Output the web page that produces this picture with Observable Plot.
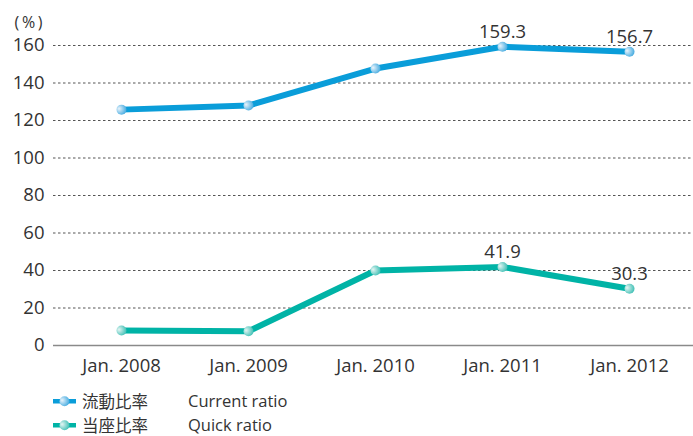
<!DOCTYPE html>
<html><head><meta charset="utf-8">
<script src="https://cdn.jsdelivr.net/npm/d3@7"></script>
<script src="https://cdn.jsdelivr.net/npm/@observablehq/plot@0.6"></script>
<style>
body{margin:0;background:#fff;font-family:"Open Sans","Noto Sans CJK JP",sans-serif;color:#333;}
#wrap{position:relative;width:693px;height:436px;}
#chart svg text{font-size:18.5px;font-family:"Open Sans",sans-serif;}
#chart svg text.unit{font-size:16px;}
#legend{position:absolute;left:53px;top:389px;font-size:16.5px;line-height:1;color:#333;}
.row{display:flex;align-items:center;height:24px;}
.row svg{width:24px;height:12px;margin-right:5px;}
.ja{width:106px;font-family:"Noto Sans CJK JP",sans-serif;line-height:1;}
</style></head><body>
<div id="wrap"><div id="chart"></div><div id="legend"></div></div>
<script>
const years = ["Jan. 2008","Jan. 2009","Jan. 2010","Jan. 2011","Jan. 2012"];
const currentRatio = [125.8, 128.0, 147.7, 159.3, 156.7];
const quickRatio = [8.0, 7.6, 40.0, 41.9, 30.3];
const labeledYears = ["Jan. 2011","Jan. 2012"];
const yTicks = [0, 20, 40, 60, 80, 100, 120, 140, 160];
const seriesJa = ["流動比率", "当座比率"];
const seriesEn = ["Current ratio", "Quick ratio"];
const seriesColors = ["#0a9dd9", "#00b3a6"];
const seriesGrad = ["gBlue", "gTeal"];
const unitLabel = "(\u2009%\u2009)";

const seriesValues = [currentRatio, quickRatio];
const data = [];
seriesValues.forEach((vals, s) => vals.forEach((v, i) => data.push({series: s, year: years[i], value: v})));
const labels = data.filter(d => labeledYears.includes(d.year));

const marks = [
  Plot.ruleY(yTicks.filter(d => d > 0), {stroke: "#555", strokeWidth: 1, strokeDasharray: "2.5,2.5"}),
  Plot.ruleY([0], {stroke: "#8a8a8a", strokeWidth: 1.5}),
  Plot.axisY({ticks: yTicks, tickSize: 0, tickPadding: 9, fontSize: 18, fill: "#333", label: null}),
  Plot.axisX({tickSize: 0, tickPadding: 13, fontSize: 18.5, fill: "#333", label: null})
];
seriesValues.forEach((vals, s) => {
  const sd = data.filter(d => d.series === s);
  marks.push(Plot.line(sd, {x: "year", y: "value", stroke: seriesColors[s], strokeWidth: 6}));
  marks.push(Plot.dot(sd, {x: "year", y: "value", r: 5, fill: `url(#${seriesGrad[s]})`, stroke: "none"}));
});
marks.push(Plot.text(labels, {x: "year", y: "value", text: d => d.value.toFixed(1), dy: -9, lineAnchor: "bottom", fill: "#333", fontSize: 18.5}));
marks.push(Plot.text([unitLabel], {frameAnchor: "top-left", dx: -25, dy: -23, fontSize: 16, fill: "#333", textAnchor: "middle", lineAnchor: "middle"}));

const plot = Plot.plot({
  width: 693, height: 375,
  marginLeft: 53, marginRight: 0, marginTop: 45, marginBottom: 30,
  style: {fontFamily: '"Open Sans","Noto Sans CJK JP",sans-serif', color: "#333", background: "white", overflow: "visible"},
  x: {type: "point", domain: years, padding: 0.5, insetLeft: 4, label: null},
  y: {domain: [0, 160], label: null},
  marks
});

function addGradients(svgSel) {
  const defs = svgSel.append("defs");
  const specs = [["gBlue", "#eaf4fc", "#3aa6de"], ["gTeal", "#e6f6f4", "#35bcb1"]];
  specs.forEach(([id, c0, c1]) => {
    const g = defs.append("radialGradient").attr("id", id).attr("cx", "0.35").attr("cy", "0.45").attr("r", "0.7").attr("fx", "0.25").attr("fy", "0.4");
    g.append("stop").attr("offset", "0").attr("stop-color", c0);
    g.append("stop").attr("offset", "1").attr("stop-color", c1);
  });
}
addGradients(d3.select(plot));
d3.select(plot).selectAll("text").filter(function() { return this.textContent === unitLabel; }).classed("unit", true);
document.getElementById("chart").appendChild(plot);

const legend = d3.select("#legend");
seriesJa.forEach((ja, s) => {
  const row = legend.append("div").attr("class", "row");
  const svg = row.append("svg").attr("viewBox", "0 0 24 12");
  svg.append("rect").attr("x", 0).attr("y", 4).attr("width", 23).attr("height", 4.5).attr("fill", seriesColors[s]);
  svg.append("circle").attr("cx", 11.5).attr("cy", 6.2).attr("r", 5).attr("fill", `url(#${seriesGrad[s]})`);
  row.append("span").attr("class", "ja").text(ja);
  row.append("span").text(seriesEn[s]);
});
</script>
</body></html>
